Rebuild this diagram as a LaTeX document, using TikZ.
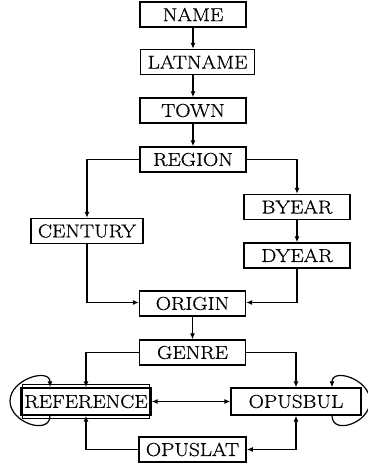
\documentclass[tikz,border=0pt]{standalone}
\usepackage{fontspec}
\setmainfont{Latin Modern Roman}[FakeStretch=1.13, FakeBold=0.7]
\usetikzlibrary{arrows.meta}
\begin{document}
\begin{tikzpicture}[x=1pt, y=-1pt,
  font=\fontsize{18.7}{20}\selectfont,
  box/.style={draw, line width=1.3pt, minimum width=106pt, minimum height=25pt, inner xsep=7pt, inner ysep=0pt},
  wide/.style={box, minimum width=130pt, minimum height=27pt},
  arr/.style={line width=1.2pt, -{Latex[length=6pt,width=5pt]}},
  both/.style={line width=1.2pt, {Latex[length=6pt,width=5pt]}-{Latex[length=6pt,width=5pt]}}]
  \useasboundingbox (0,0) rectangle (367,465);
  % upper chain
  \node[box] (name) at (193,14.5) {NAME};
  \node[box, anchor=west] (latname) at (140,62) {LATNAME};
  \node[box] (town) at (193,110.5) {TOWN};
  \node[box] (region) at (193,159.5) {REGION};
  \node[box] (century) at (87,231) {CENTURY};
  \node[box] (byear) at (297,207) {BYEAR};
  \node[box] (dyear) at (297,255.5) {DYEAR};
  \node[box] (origin) at (192.5,303.5) {ORIGIN};
  \node[box] (genre) at (192.5,352.5) {GENRE};
  % lower part
  \node[wide, inner xsep=2pt] (reference) at (86,401.5) {REFERENCE};
  \draw[line width=0.9pt] ([shift={(2.5pt,2.5pt)}]reference.north west) rectangle ([shift={(-2.5pt,-2.5pt)}]reference.south east);
  \node[wide] (opusbul) at (296,401.5) {OPUSBUL};
  \node[box] (opuslat) at (192.5,449.5) {OPUSLAT};
  \draw[arr] (name) -- (name |- latname.north);
  \draw[arr] (name |- latname.south) -- (town);
  \draw[arr] (town) -- (region);
  \draw[arr] (region.west) -| (century.north);
  \draw[arr] (region.east) -| (byear.north);
  \draw[arr] (byear) -- (dyear);
  \draw[arr] (century.south) |- ([yshift=1pt]origin.west);
  \draw[arr] (dyear.south) |- ([yshift=1pt]origin.east);
  \draw[arr] (origin) -- (genre);
  \draw[arr] (genre.west) -| (reference.north);
  \draw[arr] (genre.east) -| (opusbul.north);
  \draw[both] (reference) -- (opusbul);
  \draw[arr] (opuslat.west) -| (reference.south);
  \draw[both] (opusbul.south) |- (opuslat.east);
  % self loops
  \draw[arr] ([xshift=-36pt]reference.south) .. controls +(0,20) and +(0,22) .. (10,401)
    .. controls +(0,-22) and +(0,-20) .. ([xshift=-36pt]reference.north);
  \draw[arr] ([xshift=36pt]opusbul.south) .. controls +(0,20) and +(0,22) .. (370,401)
    .. controls +(0,-22) and +(0,-20) .. ([xshift=36pt]opusbul.north);
\end{tikzpicture}
\end{document}
